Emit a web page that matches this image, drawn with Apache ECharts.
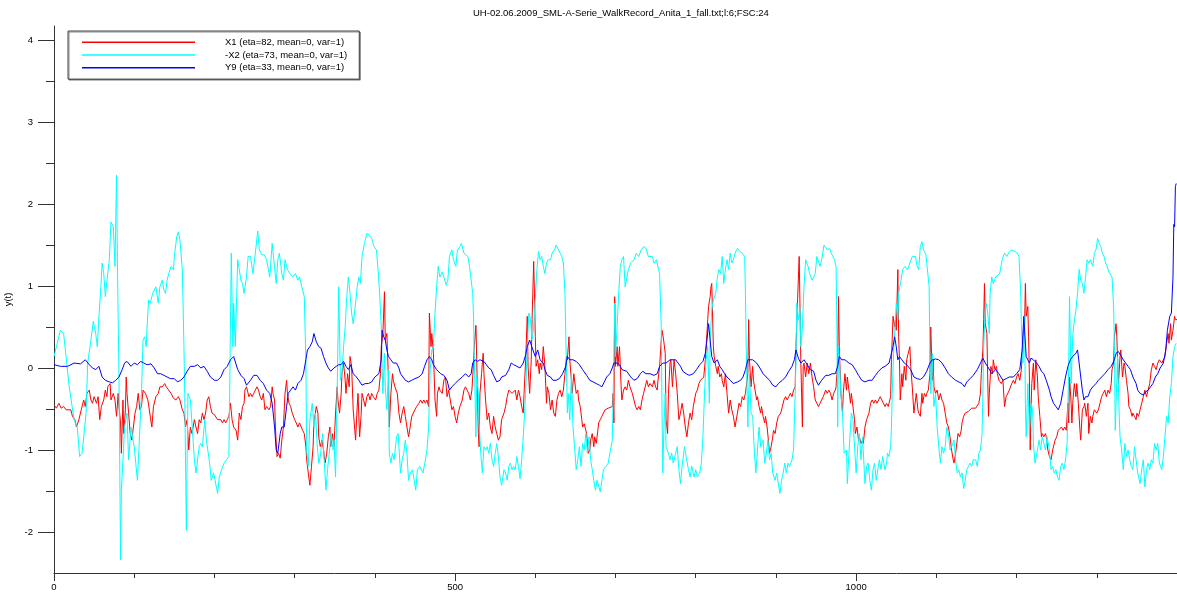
<!DOCTYPE html>
<html>
<head>
<meta charset="utf-8">
<script src="https://cdn.jsdelivr.net/npm/echarts@6/dist/echarts.min.js"></script>
<style>
  html, body { margin: 0; padding: 0; background: #ffffff; }
  #chart { width: 1177px; height: 599px; }
</style>
</head>
<body>
<div id="chart"></div>
<script>
// Walk record, channel 6: three normalised signals against sample index t.
const chartTitle = 'UH-02.06.2009_SML-A-Serie_WalkRecord_Anita_1_fall.txt;l:6;FSC:24';
const seriesNames = ['X1 (eta=82, mean=0, var=1)', '-X2 (eta=73, mean=0, var=1)', 'Y9 (eta=33, mean=0, var=1)'];
const xAxisName = 't';
const yAxisName = 'y(t)';
const xLabelTicks = [0, 500, 1000];
const xMinorTicks = [100, 200, 300, 400, 600, 700, 800, 900, 1100, 1200, 1300];
const yLabelTicks = [-2, -1, 0, 1, 2, 3, 4];
const yMinorTicks = [-1.5, -0.5, 0.5, 1.5, 2.5, 3.5];

// X1 samples as [t, y]
const x1Points = [
  [0,-0.45],[3,-0.49],[6,-0.43],[9,-0.49],[12,-0.47],[15,-0.51],[17,-0.49],[21,-0.51],[23,-0.59],[26,-0.63],[28,-0.72],[31,-0.63],[34,-0.51],[37,-0.39],[39,-0.47],[41,-0.31],[44,-0.27],[46,-0.39],[48,-0.43],[50,-0.35],[53,-0.43],[55,-0.35],[57,-0.63],[59,-0.47],[62,-0.39],[64,-0.27],[66,-0.35],[67,-0.23],[70,-0.19],[71,-0.39],[74,-0.31],[76,-0.39],[78,-0.59],[80,-0.31],[81,-0.47],[83,-0.67],[84,-1.04],[86,-0.39],[87,-0.8],[89,-0.51],[90,-0.11],[91,-0.31],[93,-0.55],[95,-0.8],[97,-0.88],[99,-0.72],[101,-0.55],[103,-0.47],[105,-0.31],[107,-0.51],[109,-0.47],[111,-0.27],[114,-0.31],[117,-0.39],[120,-0.59],[122,-0.72],[124,-0.47],[127,-0.35],[130,-0.31],[132,-0.23],[135,-0.23],[138,-0.19],[140,-0.23],[143,-0.27],[146,-0.31],[149,-0.37],[152,-0.39],[155,-0.35],[157,-0.39],[160,-0.51],[162,-0.55],[164,-0.72],[166,-0.63],[168,-1.0],[170,-0.72],[172,-0.8],[175,-0.63],[177,-0.72],[179,-0.8],[181,-0.63],[183,-0.67],[185,-0.55],[187,-0.63],[189,-0.55],[191,-0.39],[193,-0.35],[195,-0.47],[197,-0.55],[200,-0.57],[202,-0.59],[204,-0.63],[206,-0.61],[208,-0.63],[210,-0.67],[212,-0.63],[214,-0.67],[216,-0.63],[218,-0.59],[220,-0.43],[222,-0.63],[224,-0.72],[227,-0.76],[229,-0.88],[231,-0.55],[233,-0.63],[235,-0.47],[237,-0.43],
  [238,-0.27],[240,-0.23],[243,-0.35],[245,-0.31],[247,-0.35],[249,-0.31],[251,-0.27],[253,-0.23],[255,-0.27],[257,-0.35],[259,-0.39],[261,-0.31],[263,-0.51],[265,-0.47],[268,-0.51],[270,-0.47],[272,-0.23],[273,-0.31],[275,-0.39],[276,-0.72],[278,-1.08],[280,-1.04],[282,-1.1],[284,-0.88],[286,-0.72],[288,-0.31],[290,-0.15],[291,-0.31],[293,-0.43],[295,-0.47],[297,-0.55],[300,-0.63],[302,-0.67],[304,-0.72],[306,-0.67],[308,-0.67],[310,-0.76],[312,-0.8],[314,-0.96],[315,-1.12],[317,-1.28],[319,-1.43],[321,-1.2],[323,-0.96],[324,-0.67],[327,-0.47],[329,-0.55],[330,-0.84],[332,-0.96],[334,-0.88],[336,-1.0],[338,-1.16],[340,-1.04],[342,-0.84],[344,-0.72],[345,-0.96],[347,-0.8],[349,-0.96],[351,-0.55],[353,-0.23],[354,-0.39],[356,-0.55],[358,-0.31],[359,-0.07],[361,0.06],[363,-0.15],[364,-0.31],[366,-0.07],[368,-0.23],[369,0.14],[371,0.02],[373,-0.51],[376,-0.88],[378,-0.47],[379,-0.31],[381,-0.84],[383,-0.55],[384,-0.31],[386,-0.39],[388,-0.47],[390,-0.35],[392,-0.31],[394,-0.39],[396,-0.31],[398,-0.35],[401,-0.39],[403,-0.31],[405,-0.27],[407,-0.07],[408,0.26],[410,0.42],[412,0.93],[413,0.34],[415,0.42],[417,-0.15],[418,-0.72],[420,-0.31],[422,-0.07],[423,-0.15],[425,-0.23],[428,-0.31],[430,-0.55],[432,-0.67],[434,-0.55],[436,-0.47],[438,-0.59],[440,-0.72],[442,-0.84],[444,-0.72],[446,-0.59],[448,-0.55],[450,-0.51],[452,-0.47],[455,-0.43],[457,-0.39],[459,-0.43],[461,-0.39],[463,-0.43],[465,-0.39],[467,-0.47],[468,0.67],[470,0.26],[471,0.42],
  [473,0.18],[475,-0.39],[477,-0.59],[478,-0.31],[480,-0.23],[481,-0.27],[484,-0.31],[486,-0.15],[488,-0.11],[490,-0.35],[492,-0.27],[494,-0.39],[496,-0.51],[498,-0.47],[500,-0.59],[502,-0.67],[504,-0.55],[506,-0.47],[509,-0.39],[511,-0.27],[513,-0.23],[515,-0.27],[517,-0.31],[519,-0.39],[521,-0.27],[522,-0.11],[524,0.26],[526,0.52],[527,0.1],[529,-0.8],[530,-0.96],[531,-0.31],[533,-0.07],[535,0.18],[536,-0.07],[538,-0.39],[540,-0.63],[542,-0.55],[544,-0.72],[546,-0.8],[548,-0.59],[550,-0.72],[552,-0.8],[554,-0.88],[556,-0.84],[558,-0.63],[561,-0.55],[563,-0.47],[565,-0.35],[567,-0.27],[569,-0.27],[571,-0.31],[573,-0.29],[575,-0.27],[577,-0.39],[579,-0.27],[581,-0.35],[583,-0.47],[585,-0.55],[586,-0.31],[588,0.1],[590,0.63],[591,0.02],[593,-0.31],[595,0.1],[596,0.59],[598,1.3],[599,0.91],[600,0.38],[601,0.02],[603,0.1],[605,-0.07],[606,0.06],[608,-0.02],[610,0.26],[612,0.02],[614,-0.43],[615,-0.23],[617,-0.31],[619,-0.51],[621,-0.39],[623,-0.55],[625,-0.59],[627,-0.39],[629,-0.31],[631,-0.27],[633,-0.35],[635,-0.27],[637,-0.07],[639,0.14],[640,0.1],[642,0.38],[643,0.1],[645,-0.15],[646,-0.31],[648,-0.07],[650,-0.23],[651,-0.31],[653,-0.27],[654,-0.39],[656,-0.47],[658,-0.63],[659,-0.72],[661,-0.68],[663,-0.76],[664,-0.8],[666,-1.04],[668,-1.0],[669,-0.88],[671,-0.8],[673,-0.96],[674,-0.84],[676,-0.92],[678,-0.76],[679,-0.67],[681,-0.63],[683,-0.59],[685,-0.55],[687,-0.51],[689,-0.51],[691,-0.49],[693,-0.47],[696,-0.47],[697,-0.31],[698,-0.67],[699,0.87],[700,0.02],[702,0.26],[703,0.02],[705,0.26],[707,-0.23],[708,-0.39],
  [710,-0.27],[712,-0.23],[714,-0.27],[716,-0.15],[718,-0.23],[721,-0.31],[723,-0.39],[725,-0.47],[727,-0.51],[729,-0.47],[731,-0.51],[733,-0.39],[735,-0.31],[737,-0.23],[739,-0.15],[741,-0.23],[743,-0.19],[746,-0.23],[748,-0.15],[750,-0.23],[752,-0.27],[753,-0.15],[755,0.02],[757,0.34],[758,0.46],[760,0.34],[762,0.18],[763,-0.63],[765,-0.8],[766,-0.31],[768,0.06],[769,0.1],[771,-0.23],[773,0.1],[775,-0.07],[777,-0.31],[779,-0.63],[781,-0.55],[783,-0.43],[785,-0.55],[787,-0.72],[789,-0.84],[791,-0.67],[793,-0.55],[795,-0.63],[797,-0.47],[800,-0.31],[802,-0.27],[804,-0.19],[806,-0.15],[808,-0.17],[810,-0.11],[812,0.1],[814,0.42],[815,0.59],[816,0.75],[818,0.87],[819,0.99],[820,1.03],[822,0.26],[823,0.14],[825,0.02],[827,-0.07],[828,0.02],[830,-0.11],[832,-0.07],[833,-0.15],[835,-0.23],[837,-0.07],[839,-0.31],[841,-0.55],[843,-0.39],[845,-0.51],[847,-0.59],[849,-0.72],[852,-0.55],[854,-0.43],[856,-0.47],[858,-0.35],[860,-0.39],[862,-0.31],[863,-0.23],[865,-0.07],[866,0.59],[867,0.1],[869,-0.23],[871,0.02],[872,-0.15],[874,-0.27],[876,-0.39],[877,-0.35],[879,-0.47],[881,-0.55],[882,-0.47],[884,-0.59],[886,-0.67],[887,-0.59],[889,-0.72],[891,-0.92],[892,-1.04],[894,-0.96],[896,-0.84],[897,-0.76],[899,-0.8],[901,-0.67],[903,-0.59],[906,-0.55],[908,-0.47],[910,-0.39],[912,-0.35],[914,-0.39],[916,-0.35],[918,-0.31],[920,-0.35],[922,-0.27],[924,-0.23],[925,0.26],[927,0.83],[929,1.36],[930,0.75],[931,0.1],[933,-0.72],[934,0.02],[935,0.06],[937,-0.11],[939,0.06],[941,-0.07],[943,0.06],[945,-0.11],[947,-0.23],
  [949,-0.39],[951,-0.43],[953,-0.47],[955,-0.43],[957,-0.39],[959,-0.35],[962,-0.27],[964,-0.31],[966,-0.27],[968,-0.31],[970,-0.39],[972,-0.31],[974,-0.27],[975,-0.23],[977,0.1],[978,0.87],[979,0.26],[981,-0.31],[983,-0.55],[984,-0.31],[986,-0.07],[988,-0.27],[989,-0.11],[991,-0.27],[993,-0.43],[994,-0.31],[996,-0.47],[998,-0.63],[999,-0.8],[1001,-0.72],[1003,-0.88],[1004,-0.84],[1006,-0.92],[1008,-0.88],[1009,-0.92],[1011,-0.72],[1013,-0.63],[1016,-0.55],[1018,-0.43],[1020,-0.39],[1022,-0.43],[1024,-0.39],[1026,-0.43],[1028,-0.39],[1030,-0.35],[1032,-0.39],[1034,-0.43],[1036,-0.47],[1038,-0.43],[1040,-0.47],[1043,-0.35],[1044,0.1],[1046,0.63],[1048,0.5],[1049,0.59],[1050,0.46],[1052,1.2],[1053,0.38],[1054,0.1],[1055,-0.39],[1057,-0.07],[1058,-0.23],[1060,0.02],[1062,-0.15],[1063,0.1],[1065,0.18],[1067,0.26],[1068,0.02],[1070,-0.23],[1072,-0.55],[1073,-0.47],[1075,-0.31],[1077,-0.51],[1078,-0.55],[1080,-0.59],[1082,-0.31],[1083,-0.43],[1085,-0.31],[1087,-0.35],[1088,-0.31],[1090,-0.27],[1092,-0.07],[1093,0.5],[1095,-0.15],[1096,0.1],[1097,-0.23],[1099,-0.31],[1101,-0.27],[1103,-0.39],[1105,-0.31],[1107,-0.39],[1109,-0.43],[1111,-0.55],[1113,-0.67],[1115,-0.72],[1117,-0.84],[1119,-1.0],[1121,-1.12],[1122,-1.16],[1124,-1.04],[1126,-0.88],[1127,-0.8],[1129,-0.84],[1131,-0.76],[1132,-0.67],[1134,-0.59],[1136,-0.55],[1138,-0.55],[1140,-0.53],[1142,-0.51],[1144,-0.49],[1146,-0.47],[1149,-0.49],[1151,-0.47],[1153,-0.43],[1155,-0.31],[1156,-0.07],[1158,0.22],[1159,0.59],[1160,1.03],[1161,0.54],[1163,0.42],[1164,-0.11],[1165,-0.59],[1166,-0.31],[1168,0.02],[1170,-0.07],[1171,0.1],[1173,-0.02],[1175,0.02],[1176,-0.07],[1178,-0.15],
  [1181,-0.19],[1183,-0.15],[1185,-0.47],[1187,-0.35],[1189,-0.33],[1191,-0.27],[1194,-0.19],[1196,-0.15],[1198,-0.19],[1200,-0.11],[1202,-0.07],[1204,-0.15],[1206,-0.02],[1208,0.38],[1210,0.54],[1211,1.03],[1212,0.63],[1214,0.75],[1215,0.38],[1216,-0.11],[1217,-1.0],[1218,-0.51],[1219,-0.19],[1221,0.06],[1222,-0.27],[1224,0.1],[1226,-0.11],[1227,-0.35],[1229,-0.59],[1231,-0.84],[1232,-0.8],[1234,-0.84],[1236,-0.8],[1237,-0.84],[1239,-1.0],[1241,-1.08],[1243,-1.12],[1245,-1.0],[1248,-0.88],[1250,-0.84],[1252,-0.76],[1254,-0.74],[1256,-0.72],[1258,-0.76],[1260,-0.72],[1262,-0.76],[1264,-0.43],[1265,-0.67],[1266,-0.11],[1268,-0.43],[1269,-0.67],[1270,-0.43],[1272,-0.19],[1274,-0.35],[1275,-0.19],[1277,-0.43],[1279,-0.76],[1280,-0.88],[1282,-0.51],[1284,-0.47],[1285,-0.43],[1287,-0.59],[1289,-0.43],[1290,-0.8],[1292,-0.59],[1294,-0.67],[1295,-0.59],[1297,-0.51],[1300,-0.55],[1302,-0.51],[1304,-0.43],[1306,-0.35],[1308,-0.31],[1310,-0.27],[1312,-0.35],[1314,-0.27],[1316,-0.31],[1318,-0.19],[1319,-0.02],[1321,0.06],[1322,0.38],[1324,0.54],[1325,0.38],[1326,0.06],[1327,-0.19],[1329,0.14],[1330,0.22],[1332,-0.11],[1334,0.06],[1335,0.02],[1337,-0.15],[1339,-0.31],[1340,-0.47],[1342,-0.51],[1344,-0.59],[1345,-0.55],[1347,-0.59],[1349,-0.63],[1350,-0.55],[1352,-0.59],[1354,-0.51],[1356,-0.43],[1358,-0.35],[1360,-0.27],[1362,-0.35],[1364,-0.27],[1366,-0.19],[1368,-0.02],[1370,0.06],[1372,0.02],[1374,-0.02],[1376,0.06],[1378,0.1],[1381,0.06],[1383,0.06],[1385,0.14],[1387,0.3],[1389,0.42],[1390,0.3],[1392,0.54],[1393,0.34],[1395,0.46],[1397,0.63],[1398,0.59],[1400,0.59]
];

// -X2 samples as [t, y]
const x2NegPoints = [
  [0,0.14],[8,0.46],[12,0.42],[19,-0.23],[25,-0.63],[29,-0.72],[32,-1.08],[35,-1.04],[40,-0.55],[42,0.06],[46,0.34],[49,0.57],[52,0.42],[54,0.26],[56,0.63],[58,0.91],[60,1.28],[62,1.15],[64,0.87],[66,1.07],[69,1.32],[71,1.78],[74,1.72],[76,1.24],[78,2.35],[79,1.32],[81,-0.1],[83,-2.34],[84,-1.49],[86,-1.12],[88,-0.72],[91,-0.55],[93,-1.12],[96,-0.72],[100,-0.96],[104,-1.37],[106,-0.96],[109,-0.31],[111,0.34],[113,0.38],[115,0.26],[116,0.5],[118,0.83],[120,0.79],[123,0.91],[125,0.95],[127,0.99],[130,0.79],[132,0.99],[135,1.07],[137,0.95],[139,0.91],[141,1.07],[143,1.15],[146,1.24],[149,1.2],[150,1.36],[153,1.6],[155,1.66],[157,1.56],[160,1.2],[162,0.26],[163,-0.31],[165,-1.98],[166,-1.12],[167,-0.31],[170,-0.39],[172,-0.67],[175,-1.12],[177,-1.28],[179,-1.12],[181,-0.96],[183,-0.92],[185,-0.96],[188,-0.63],[190,-0.88],[192,-0.88],[194,-1.16],[196,-1.37],[199,-1.28],[201,-1.28],[204,-1.53],[206,-1.33],[209,-1.24],[212,-1.16],[215,-1.12],[218,-1.08],[219,-0.31],[221,1.4],[223,0.26],[224,0.79],[226,0.26],[229,1.32],[231,1.2],[233,1.07],[235,1.03],[237,0.91],
  [240,1.11],[242,1.36],[245,1.36],[248,1.15],[251,1.4],[254,1.67],[256,1.44],[259,1.38],[262,1.38],[265,1.32],[269,1.11],[272,1.52],[274,1.32],[277,1.03],[279,1.32],[281,1.4],[284,1.15],[286,1.07],[288,1.32],[291,1.2],[294,1.15],[298,1.11],[301,1.15],[304,1.07],[306,1.11],[309,0.99],[312,0.87],[314,0.1],[315,-1.0],[317,-1.2],[319,-0.63],[322,-0.43],[324,-0.72],[326,-0.55],[328,-0.92],[330,-1.16],[332,-1.08],[335,-0.8],[337,-1.16],[339,-1.49],[341,-1.24],[344,-0.96],[345,-0.8],[348,-1.0],[349,-0.88],[351,-1.33],[353,-0.31],[355,0.99],[357,-0.15],[359,-0.07],[361,0.26],[363,0.5],[365,0.87],[367,1.11],[369,0.91],[371,0.67],[373,0.54],[376,0.79],[378,0.99],[380,1.11],[382,1.03],[384,1.36],[387,1.52],[390,1.64],[393,1.62],[396,1.58],[399,1.48],[402,1.44],[404,1.2],[406,0.91],[408,0.5],[409,0.02],[410,-0.31],[412,0.18],[413,-0.23],[415,-0.51],[417,-0.02],[418,-1.04],[420,-1.16],[422,-1.04],[424,-1.12],[427,-0.84],[429,-0.8],[432,-1.28],[434,-1.12],[436,-1.04],[438,-0.88],[440,-1.04],[442,-1.37],[444,-1.28],[447,-1.24],[449,-1.37],[451,-1.49],[453,-1.24],[456,-1.2],[458,-1.24],[460,-1.28],[463,-1.12],[465,-1.0],[467,-0.72],[469,-0.02],[471,0.22],
  [473,0.26],[475,0.67],[477,0.99],[479,1.24],[481,1.11],[484,1.17],[486,1.11],[489,1.01],[491,1.07],[493,1.36],[496,1.44],[498,1.32],[501,1.24],[503,1.44],[506,1.48],[508,1.52],[511,1.4],[513,1.38],[516,1.36],[518,1.24],[520,1.22],[522,0.91],[523,0.63],[524,0.1],[526,-0.84],[527,-0.1],[529,-0.31],[530,-0.67],[532,-1.04],[534,-1.28],[536,-0.96],[538,-1.0],[540,-0.96],[542,-1.04],[544,-0.92],[546,-1.12],[548,-1.2],[550,-1.04],[552,-0.92],[554,-1.08],[556,-1.33],[558,-1.43],[561,-1.24],[563,-1.28],[565,-1.37],[567,-1.2],[569,-1.16],[571,-1.24],[573,-1.2],[575,-1.24],[577,-1.08],[579,-1.2],[581,-1.35],[583,-1.12],[585,-0.84],[588,-0.31],[590,0.26],[592,0.67],[594,0.59],[596,0.34],[598,0.5],[600,0.83],[602,1.2],[604,1.42],[606,1.32],[608,1.36],[610,1.24],[612,1.15],[614,1.28],[616,1.32],[619,1.32],[621,1.4],[624,1.44],[626,1.5],[629,1.44],[631,1.4],[633,1.36],[635,1.28],[637,0.91],[638,0.42],[640,-0.55],[641,-0.31],[643,-0.63],[645,-0.07],[647,-0.72],[649,-0.96],[651,-1.24],[653,-1.12],[655,-0.96],[657,-1.2],[659,-0.92],[661,-1.0],[663,-0.8],[665,-1.04],[667,-0.84],[669,-1.12],[671,-1.24],[673,-1.37],[675,-1.49],[677,-1.37],[679,-1.37],[681,-1.51],[683,-1.37],[685,-1.24],[688,-1.2],[691,-1.16],[693,-1.04],[696,-0.88],[698,0.1],[699,0.79],[700,0.14],[702,0.5],[704,0.91],[706,1.24],[708,1.32],
  [710,1.36],[712,0.99],[714,0.97],[716,1.2],[719,1.28],[723,1.32],[726,1.4],[729,1.36],[732,1.44],[735,1.48],[738,1.46],[741,1.36],[743,1.34],[746,1.36],[748,1.28],[751,1.32],[753,1.32],[755,1.15],[757,0.5],[758,-0.51],[759,-1.28],[760,-0.84],[762,-0.31],[763,-0.96],[766,-1.04],[768,-1.12],[770,-1.04],[772,-1.16],[775,-1.04],[777,-0.96],[779,-1.24],[781,-1.41],[783,-1.2],[786,-0.96],[788,-1.08],[791,-1.24],[793,-1.33],[795,-1.2],[798,-1.33],[800,-1.24],[802,-1.33],[805,-1.28],[807,-1.16],[809,-0.84],[811,-0.31],[813,0.1],[815,0.26],[817,-0.43],[818,0.34],[820,0.71],[822,0.83],[825,0.91],[827,1.11],[829,1.2],[831,1.15],[833,1.36],[835,1.03],[837,1.2],[839,1.32],[841,1.2],[843,1.4],[845,1.28],[847,1.32],[849,1.4],[852,1.46],[855,1.42],[858,1.4],[861,1.36],[862,0.91],[863,0.26],[865,-0.72],[866,-0.31],[867,-0.07],[869,-0.55],[871,-0.59],[873,-1.0],[875,-1.28],[877,-1.0],[879,-0.72],[881,-0.96],[884,-0.88],[886,-1.16],[888,-1.04],[890,-0.88],[892,-1.12],[894,-1.04],[896,-1.28],[899,-1.37],[901,-1.28],[903,-1.41],[905,-1.53],[907,-1.37],[909,-1.28],[911,-1.16],[913,-1.28],[915,-1.16],[917,-1.2],[920,-1.12],[922,-1.0],[924,-0.31],[925,0.1],[926,0.79],[928,0.59],[930,0.71],[931,0.26],[933,0.5],[935,0.99],[937,1.32],[940,1.24],[942,1.15],[945,1.07],
  [947,1.11],[949,1.15],[951,1.36],[953,1.34],[955,1.24],[957,1.32],[960,1.5],[964,1.44],[967,1.46],[969,1.4],[971,1.38],[973,1.32],[975,1.24],[976,0.5],[977,-0.72],[978,0.26],[979,0.1],[981,-0.31],[983,-0.55],[985,-1.04],[988,-1.0],[989,-1.41],[991,-1.04],[994,-0.55],[996,-0.63],[998,-0.96],[1000,-1.28],[1002,-0.96],[1004,-0.8],[1006,-1.12],[1008,-0.84],[1011,-1.41],[1013,-1.2],[1015,-1.16],[1017,-1.37],[1019,-1.49],[1021,-1.24],[1023,-1.16],[1025,-1.37],[1027,-1.24],[1029,-1.12],[1031,-1.24],[1033,-1.08],[1036,-1.24],[1038,-1.16],[1039,-1.04],[1041,-1.08],[1043,-0.96],[1044,-0.72],[1045,-0.31],[1047,0.26],[1048,0.42],[1050,0.79],[1052,0.59],[1053,0.91],[1056,1.07],[1058,1.2],[1061,1.24],[1064,1.2],[1067,1.28],[1070,1.36],[1072,1.38],[1074,1.36],[1076,1.24],[1078,1.2],[1080,1.48],[1082,1.54],[1084,1.44],[1087,1.38],[1089,1.38],[1091,0.99],[1092,0.1],[1093,-0.31],[1095,0.18],[1096,-0.23],[1097,-0.47],[1099,-0.31],[1101,-0.72],[1103,-0.96],[1105,-1.16],[1107,-0.96],[1109,-1.04],[1111,-0.96],[1113,-0.72],[1115,-0.8],[1117,-1.0],[1119,-0.96],[1122,-0.88],[1124,-1.12],[1126,-1.28],[1128,-1.24],[1130,-1.33],[1132,-1.28],[1134,-1.47],[1136,-1.37],[1138,-1.24],[1140,-1.2],[1142,-1.16],[1144,-1.2],[1146,-1.12],[1149,-1.12],[1151,-1.2],[1153,-1.04],[1155,-1.0],[1157,-0.8],[1158,-0.31],[1159,0.26],[1161,0.71],[1162,0.79],[1164,0.67],[1166,0.42],[1167,0.91],[1169,1.11],[1171,1.03],[1174,1.11],[1176,1.13],
  [1179,1.15],[1182,1.32],[1185,1.4],[1188,1.36],[1191,1.42],[1194,1.44],[1198,1.42],[1201,1.4],[1203,1.36],[1205,0.95],[1206,0.54],[1208,0.06],[1210,0.63],[1211,-0.43],[1212,-0.84],[1214,-0.19],[1216,-0.76],[1218,-0.43],[1220,-0.51],[1221,-0.92],[1223,-1.16],[1226,-1.0],[1228,-0.88],[1230,-1.0],[1232,-0.84],[1234,-0.92],[1236,-1.0],[1238,-0.84],[1241,-1.0],[1243,-1.24],[1245,-1.2],[1247,-1.28],[1249,-1.24],[1251,-1.33],[1253,-1.37],[1255,-1.2],[1257,-1.16],[1259,-1.24],[1261,-1.12],[1263,-0.92],[1265,0.02],[1266,0.87],[1268,-0.19],[1270,0.38],[1271,0.5],[1274,0.71],[1276,0.91],[1278,1.2],[1280,1.07],[1282,1.03],[1284,0.91],[1286,1.11],[1288,1.32],[1290,1.28],[1292,1.32],[1295,1.24],[1297,1.4],[1299,1.44],[1301,1.58],[1303,1.52],[1305,1.48],[1307,1.4],[1309,1.36],[1311,1.28],[1313,1.24],[1315,1.17],[1317,1.19],[1319,1.11],[1321,0.75],[1322,0.22],[1323,-0.76],[1324,-0.43],[1326,0.14],[1328,-0.59],[1329,-0.84],[1331,-1.0],[1333,-1.24],[1335,-0.92],[1337,-1.08],[1339,-1.0],[1341,-1.12],[1343,-1.2],[1345,-1.24],[1347,-0.96],[1349,-1.12],[1351,-1.28],[1354,-1.41],[1356,-1.24],[1358,-1.12],[1360,-1.45],[1362,-1.24],[1364,-1.16],[1366,-1.24],[1368,-1.12],[1370,-1.16],[1372,-0.92],[1374,-1.0],[1376,-0.92],[1378,-1.16],[1381,-1.24],[1383,-1.08],[1385,-0.84],[1387,-0.59],[1389,-0.67],[1391,-0.35],[1393,-0.19],[1395,0.14],[1397,0.26],[1399,0.3]
];

// Y9 samples as [t, y]
const y9Points = [
  [0,0.04],[8,0.02],[17,0.02],[25,0.06],[33,0.05],[39,0.1],[44,0.04],[48,0.0],[52,-0.02],[56,0.02],[60,-0.11],[64,-0.15],[69,-0.17],[73,-0.18],[77,-0.15],[81,-0.11],[85,-0.02],[88,0.06],[91,0.08],[96,0.02],[100,0.06],[104,0.04],[108,0.08],[112,0.06],[116,0.04],[121,0.05],[125,0.0],[129,-0.07],[133,-0.07],[137,-0.09],[141,-0.11],[145,-0.13],[150,-0.13],[154,-0.17],[158,-0.15],[162,-0.11],[166,-0.04],[170,0.02],[175,0.02],[179,0.04],[183,0.0],[187,0.02],[191,-0.04],[195,-0.11],[200,-0.15],[204,-0.15],[208,-0.11],[212,-0.02],[216,0.02],[220,0.1],[224,0.14],[229,-0.02],[233,-0.09],[237,-0.13],
  [240,-0.21],[245,-0.15],[249,-0.09],[253,-0.09],[257,-0.15],[261,-0.19],[265,-0.27],[269,-0.31],[272,-0.43],[275,-0.72],[277,-1.0],[279,-1.04],[282,-0.8],[284,-0.72],[287,-0.72],[290,-0.47],[292,-0.31],[295,-0.27],[298,-0.23],[301,-0.27],[304,-0.19],[308,-0.15],[311,-0.07],[314,0.1],[316,0.22],[319,0.26],[322,0.32],[324,0.42],[327,0.32],[330,0.26],[333,0.24],[336,0.14],[339,0.06],[342,0.0],[345,-0.04],[349,0.0],[352,0.02],[355,0.04],[358,0.04],[361,0.08],[364,0.02],[367,-0.02],[370,0.04],[373,-0.07],[377,-0.11],[380,-0.15],[384,-0.21],[388,-0.19],[392,-0.19],[396,-0.17],[400,-0.11],[405,-0.07],[408,0.1],[409,0.46],[411,0.38],[413,0.34],[415,0.22],[417,0.14],[420,0.1],[423,0.06],[427,0.06],[430,0.0],[432,-0.07],[435,-0.11],[438,-0.15],[442,-0.17],[446,-0.15],[450,-0.13],[455,-0.11],[459,-0.07],[462,0.02],[465,0.1],[468,0.14],[471,0.1],
  [473,0.04],[477,-0.02],[482,-0.07],[486,-0.09],[490,-0.15],[493,-0.27],[496,-0.23],[500,-0.19],[504,-0.15],[509,-0.11],[513,-0.07],[517,-0.11],[520,-0.07],[522,0.06],[525,0.1],[528,0.08],[531,0.1],[536,0.08],[539,0.04],[542,0.0],[545,-0.02],[548,-0.09],[552,-0.17],[556,-0.15],[558,-0.11],[563,-0.09],[567,-0.02],[570,0.06],[573,0.04],[577,0.02],[581,0.0],[585,0.06],[588,0.16],[590,0.26],[593,0.34],[595,0.28],[597,0.22],[600,0.14],[603,0.22],[606,0.1],[610,0.06],[612,-0.02],[615,-0.09],[619,-0.11],[622,-0.15],[626,-0.15],[630,-0.13],[634,-0.07],[638,0.02],[640,0.14],[643,0.1],[647,0.1],[651,0.08],[655,0.04],[659,-0.02],[664,-0.09],[668,-0.15],[672,-0.17],[676,-0.19],[680,-0.21],[683,-0.23],[686,-0.17],[689,-0.11],[693,-0.07],[696,0.0],[698,0.06],[702,0.06],[705,0.04],[708,-0.02],
  [710,-0.02],[714,-0.04],[719,-0.11],[723,-0.15],[727,-0.13],[731,-0.07],[734,-0.04],[738,-0.07],[743,-0.07],[748,-0.09],[752,-0.07],[755,0.02],[759,0.06],[763,0.06],[768,0.1],[770,0.12],[775,0.1],[778,0.06],[781,0.02],[784,-0.04],[788,-0.07],[792,-0.09],[797,-0.07],[801,-0.02],[805,0.04],[809,0.08],[812,0.18],[814,0.34],[816,0.54],[818,0.34],[820,0.14],[823,0.06],[827,0.1],[830,0.02],[833,-0.02],[836,-0.07],[839,-0.11],[843,-0.15],[847,-0.19],[852,-0.17],[856,-0.15],[859,-0.11],[862,-0.02],[865,0.1],[867,0.11],[871,0.1],[876,0.06],[880,0.0],[884,-0.07],[888,-0.11],[892,-0.15],[896,-0.21],[900,-0.23],[903,-0.19],[908,-0.15],[912,-0.11],[916,-0.04],[920,0.02],[923,0.1],[925,0.22],[928,0.12],[931,0.06],[935,0.1],[939,0.04],[943,-0.02],[947,-0.04],
  [950,-0.15],[953,-0.21],[957,-0.15],[962,-0.09],[966,-0.09],[970,-0.07],[974,-0.07],[977,0.02],[979,0.14],[982,0.1],[986,0.1],[991,0.06],[995,0.04],[999,-0.02],[1003,-0.09],[1007,-0.15],[1011,-0.17],[1016,-0.15],[1020,-0.15],[1024,-0.09],[1028,-0.04],[1032,0.0],[1036,0.02],[1041,0.06],[1043,0.14],[1046,0.26],[1048,0.38],[1050,0.26],[1052,0.1],[1054,0.14],[1057,0.1],[1060,0.06],[1063,0.04],[1068,-0.02],[1072,-0.11],[1076,-0.13],[1080,-0.14],[1084,-0.11],[1088,-0.04],[1092,0.06],[1095,0.1],[1099,0.11],[1103,0.1],[1107,0.06],[1111,0.0],[1115,-0.07],[1119,-0.11],[1124,-0.15],[1128,-0.17],[1132,-0.19],[1135,-0.23],[1138,-0.17],[1142,-0.13],[1146,-0.09],[1151,-0.02],[1155,0.06],[1158,0.12],[1161,0.06],[1165,0.0],[1169,-0.07],[1174,-0.02],[1178,-0.07],
  [1183,-0.15],[1187,-0.13],[1191,-0.11],[1196,-0.11],[1200,-0.07],[1204,-0.02],[1207,0.22],[1209,0.63],[1210,0.46],[1212,0.14],[1216,0.06],[1218,0.12],[1221,0.1],[1225,0.06],[1228,0.02],[1231,-0.04],[1234,-0.07],[1237,-0.15],[1241,-0.27],[1243,-0.35],[1246,-0.43],[1249,-0.47],[1252,-0.51],[1255,-0.43],[1258,-0.27],[1261,-0.11],[1264,0.02],[1267,0.1],[1270,0.14],[1274,0.18],[1276,0.22],[1278,0.06],[1280,-0.11],[1282,-0.27],[1284,-0.39],[1286,-0.35],[1289,-0.35],[1292,-0.27],[1295,-0.23],[1299,-0.19],[1302,-0.15],[1306,-0.11],[1310,-0.07],[1314,-0.02],[1318,0.02],[1322,0.1],[1324,0.18],[1327,0.2],[1329,0.18],[1333,0.1],[1336,0.06],[1339,0.02],[1342,-0.02],[1345,-0.11],[1349,-0.19],[1351,-0.27],[1354,-0.31],[1358,-0.33],[1361,-0.29],[1364,-0.27],[1367,-0.23],[1370,-0.19],[1373,-0.11],[1376,-0.07],[1379,0.0],[1383,0.06],[1386,0.22],[1388,0.46],[1391,0.63],[1393,0.67],[1395,1.11],[1396,1.75],[1397,1.72],[1398,2.21],[1399,2.25]
];

const seriesColors = ['#ff0000', '#00ffff', '#0000ff'];
const seriesPoints = [x1Points, x2NegPoints, y9Points];

const FONT = '"Liberation Sans", Arial, Helvetica, sans-serif';
const AXIS_COLOR = '#333333';
const TEXT_COLOR = '#000000';
const plainNumber = (v) => String(v);

const chart = echarts.init(document.getElementById('chart'), null, { renderer: 'canvas' });

chart.setOption({
  animation: false,
  backgroundColor: '#ffffff',
  textStyle: { fontFamily: FONT },
  title: {
    text: chartTitle,
    left: 473,
    top: 8,
    padding: 0,
    textStyle: { fontSize: 9.5, fontWeight: 'normal', color: TEXT_COLOR, fontFamily: FONT }
  },
  legend: {
    data: seriesNames,
    orient: 'vertical',
    left: 68,
    top: 31,
    padding: [5, 12, 5, 14],
    itemGap: 0,
    itemWidth: 113,
    itemHeight: 1.5,
    icon: 'rect',
    selectedMode: false,
    backgroundColor: '#ffffff',
    borderColor: '#444444',
    borderWidth: 1,
    shadowColor: 'rgba(0,0,0,0.45)',
    shadowOffsetX: 1,
    shadowOffsetY: 1,
    shadowBlur: 0,
    textStyle: { fontSize: 9.5, color: TEXT_COLOR, fontFamily: FONT, lineHeight: 12.7, padding: [0, 0, 0, 25] }
  },
  grid: { left: 54, right: 0, top: 26, bottom: 26, containLabel: false, outerBoundsMode: 'none' },
  xAxis: [
    {
      type: 'value', position: 'bottom', min: 0, max: 1400,
      name: xAxisName, nameLocation: 'middle', nameGap: 19,
      nameTextStyle: { fontSize: 9.5, color: TEXT_COLOR, fontFamily: FONT },
      axisLine: { show: true, onZero: false, lineStyle: { color: AXIS_COLOR, width: 1 } },
      axisTick: { show: true, customValues: xLabelTicks, length: 8, lineStyle: { color: AXIS_COLOR, width: 1 } },
      axisLabel: { customValues: xLabelTicks, formatter: plainNumber, margin: 9, fontSize: 9.5, color: TEXT_COLOR, fontFamily: FONT },
      splitLine: { show: false }
    },
    {
      // minor ticks every 100 along the bottom edge
      type: 'value', position: 'bottom', min: 0, max: 1400,
      axisLine: { show: false, onZero: false },
      axisTick: { show: true, customValues: xMinorTicks, length: 5, lineStyle: { color: AXIS_COLOR, width: 1 } },
      axisLabel: { show: false },
      splitLine: { show: false }
    }
  ],
  yAxis: [
    {
      type: 'value', position: 'left', min: -2.5, max: 4.17,
      name: yAxisName, nameLocation: 'middle', nameGap: 35,
      nameTextStyle: { fontSize: 9.5, color: TEXT_COLOR, fontFamily: FONT },
      axisLine: { show: true, onZero: false, lineStyle: { color: AXIS_COLOR, width: 1 } },
      axisTick: { show: true, customValues: yLabelTicks, length: 16, lineStyle: { color: AXIS_COLOR, width: 1 } },
      axisLabel: { customValues: yLabelTicks, formatter: plainNumber, margin: 21, fontSize: 9.5, color: TEXT_COLOR, fontFamily: FONT },
      splitLine: { show: false }
    },
    {
      // half-step ticks on the left edge
      type: 'value', position: 'left', min: -2.5, max: 4.17,
      axisLine: { show: false, onZero: false },
      axisTick: { show: true, customValues: yMinorTicks, length: 8, lineStyle: { color: AXIS_COLOR, width: 1 } },
      axisLabel: { show: false },
      splitLine: { show: false }
    }
  ],
  series: seriesNames.map((name, i) => ({
    name: name,
    type: 'line',
    xAxisIndex: 0,
    yAxisIndex: 0,
    data: seriesPoints[i],
    showSymbol: false,
    symbol: 'none',
    smooth: false,
    color: seriesColors[i],
    itemStyle: { color: seriesColors[i] },
    lineStyle: { color: seriesColors[i], width: 1 },
    emphasis: { disabled: true },
    silent: true
  }))
});
</script>
</body>
</html>
